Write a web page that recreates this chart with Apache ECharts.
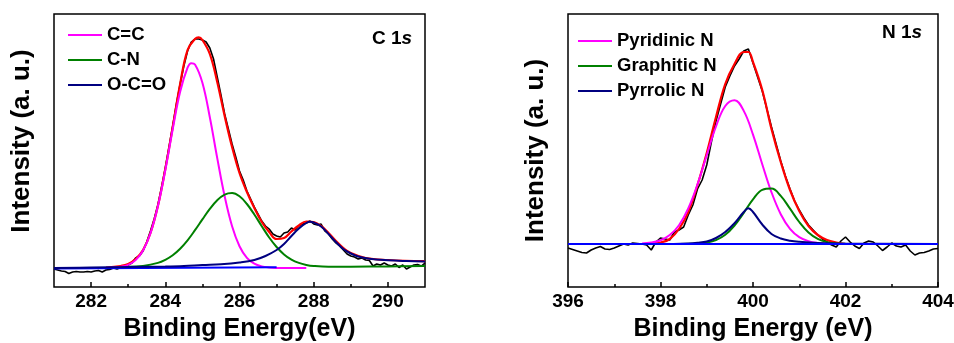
<!DOCTYPE html>
<html><head><meta charset="utf-8">
<script src="https://cdn.jsdelivr.net/npm/echarts@6/dist/echarts.min.js"></script>
<style>html,body{margin:0;padding:0;background:#fff}#c{width:954px;height:343px}</style>
</head><body><div id="c"></div>
<script>
// ---------- C 1s (left panel) ----------
const c1sTicks = [282, 284, 286, 288, 290];
const c1sMinorTicks = [283, 285, 287, 289];
const c1sRawE = [281.0,281.1,281.2,281.3,281.4,281.5,281.6,281.7,281.8,281.9,
 282.0,282.1,282.2,282.3,282.4,282.5,282.6,282.7,282.8,282.9,
 283.0,283.1,283.2,283.3,283.4,283.5,283.6,283.7,283.8,283.9,
 284.0,284.1,284.2,284.3,284.4,284.5,284.6,284.7,284.8,284.9,
 285.0,285.1,285.2,285.3,285.4,285.5,285.6,285.7,285.8,285.9,
 286.0,286.1,286.2,286.3,286.4,286.5,286.6,286.7,286.8,286.9,
 287.0,287.1,287.2,287.3,287.4,287.5,287.6,287.7,287.8,287.9,
 288.0,288.1,288.2,288.3,288.4,288.5,288.6,288.7,288.8,288.9,
 289.0,289.1,289.2,289.3,289.4,289.5,289.6,289.7,289.8,289.9,
 290.0,290.1,290.2,290.3,290.4,290.5,290.6,290.7,290.8,290.9,291.0];
const c1sRaw = [18,17,16,15.5,13.5,15,15.5,15,15,15.5,
 15,16,16.5,15,17,17.5,19,18,19.5,20,
 22,24,29,31,36,45,56,68,82,100,
 119,140,161,183,203,221,236,245,248,248,
 247,245,239,228,210,192,173,158,143,130,
 116,107,96,88,80,73,66,61,58,53,
 51,50,54,55,59,57,61,63,64,66,
 63,62,63,56,53,48,44,41,37,33,
 31,30,28,29,27,26.5,21,23,22,24,
 22,21,23,19.5,22,18,20,22,22.5,21,24];
const c1sFitE = [282.4,282.8,283.0,283.2,283.4,283.6,283.8,284.0,284.2,284.4,284.6,284.8,284.9,285.0,285.2,285.4,285.6,285.8,286.0,286.2,286.4,286.6,286.8,287.0,287.2,287.4,287.6,287.8,288.0,288.2,288.4,288.6,288.8,289.0,289.4,290.0,291.0];
const c1sFit = [19.5,21,23,28,37,54,81,118,160,203,237,248,249.7,247,233,205,171,140,114,95,79,65,55,48,49,55.5,61.5,65.5,65,61,54,46,39,34,29,27,25.8];
const ccE = [282.4,282.6,282.8,283.0,283.2,283.4,283.6,283.8,284.0,284.2,284.4,284.6,284.7,284.8,285.0,285.2,285.4,285.6,285.8,286.0,286.2,286.4,286.6,286.8,287.0,287.4,287.8];
const ccV = [19.1,19.4,20.2,22.2,26.9,36.6,53.8,80.7,116.8,157.8,195.3,219.3,223.8,222.6,204.3,169.8,128.9,90.7,60.8,40.8,29.2,23.3,20.6,19.5,19.1,19,19];
const cnE = [283.0,283.4,283.8,284.0,284.2,284.4,284.6,284.8,285.0,285.2,285.4,285.6,285.8,286.0,286.2,286.4,286.6,286.8,287.0,287.2,287.4,287.6,287.8,288.0,288.4,289.0,290.0,291.0];
const cnV = [20.2,21.1,24.1,27.2,31.8,38.3,46.7,56.8,67.6,78.1,86.8,92.4,93.9,90.7,83.0,72.5,60.8,49.5,40.0,32.6,27.4,24.1,22.1,21.0,20.2,20.3,20.6,21];
const occE = [281.0,282.0,283.0,284.0,284.5,285.0,285.5,286.0,286.4,286.7,287.0,287.2,287.4,287.6,287.8,287.9,288.0,288.2,288.4,288.6,288.8,289.0,289.2,289.5,290.0,290.5,291.0];
const occV = [19,19.5,20,20.5,21,22,22.8,24.5,27,31,37,43,51,58.5,64,65.3,64.5,60.5,53,45,38,33.5,30.5,28.3,26.8,26,25.5];
const c1sBgE = [281.0, 287.0];
const c1sBgV = [18.6, 19.7];

// ---------- N 1s (right panel) ----------
const n1sTicks = [396, 398, 400, 402, 404];
const n1sMinorTicks = [397, 399, 401, 403];
const n1sRawE = [396.0,396.1,396.2,396.3,396.4,396.5,396.6,396.7,396.8,396.9,
 397.0,397.1,397.2,397.3,397.4,397.5,397.6,397.7,397.8,397.9,
 398.0,398.1,398.2,398.3,398.4,398.5,398.6,398.7,398.8,398.9,
 399.0,399.1,399.2,399.3,399.4,399.5,399.6,399.7,399.8,399.9,
 400.0,400.1,400.2,400.3,400.4,400.5,400.6,400.7,400.8,400.9,
 401.0,401.1,401.2,401.3,401.4,401.5,401.6,401.7,401.8,401.9,
 402.0,402.1,402.2,402.3,402.4,402.5,402.6,402.7,402.8,402.9,
 403.0,403.1,403.2,403.3,403.4,403.5,403.6,403.7,403.8,403.9,404.0];
const n1sRaw = [39,37.5,36,34.5,34,37,39,40.5,38,37.5,
 39,41,43,42,44,43.5,43,42,37,45,
 49,48,47,55,57,60,72,82,98,107,
 122,145,166,183,200,211,221,228,236,238,
 224,210,196,178,160,143,126,111,98,86,
 77,69,62,57,52,48,45,42,40,46,
 50,45,41,38.5,44,46,45,41,36.5,40,
 44,41,40,42,36,32,34,34.5,36,38,38.5];
const n1sFitE = [397.6,397.8,398.0,398.2,398.4,398.6,398.8,399.0,399.2,399.4,399.6,399.8,399.9,400.0,400.2,400.4,400.6,400.8,401.0,401.2,401.4,401.6,401.8,402.0];
const n1sFit = [43,43.5,44.5,48,58,75,102,134,170,203,223,235,235,225,197,158,125,97,76,61,52,47,44.5,43];
const pyridE = [397.6,397.8,398.0,398.2,398.4,398.6,398.8,399.0,399.2,399.4,399.6,399.8,400.0,400.2,400.4,400.6,400.8,401.0,401.2,401.4,401.6,402.0];
const pyridV = [43.4,44.4,46.7,51.9,61.8,78.6,102.6,131.8,160.5,181,186.8,176.1,152.4,122.8,94.7,72.8,58.2,49.9,45.8,44,43.3,43];
const graphE = [398.4,398.8,399.0,399.2,399.4,399.6,399.8,400.0,400.2,400.4,400.6,400.8,401.0,401.2,401.4,401.6,401.8,402.0];
const graphV = [43,43.4,44.4,46.9,52.2,61.5,74.2,87.6,97.1,98.4,91.1,78.3,65,54.6,48.2,44.9,43.6,43.2];
const pyrrE = [396.0,398.0,398.6,398.8,399.0,399.2,399.4,399.6,399.8,399.9,400.0,400.2,400.4,400.6,400.8,401.0,401.4,402.0,404.0];
const pyrrV = [43,43,43.5,44.2,45.5,49,55,63.7,75,78.7,75,62.5,53,48.5,46.3,45.2,44,43.3,43];
const n1sBgE = [396.0, 404.0];
const n1sBgV = [43, 43];

const zip = (xs, ys) => xs.map((x, i) => [x, ys[i]]);
const FONT = '"Liberation Sans", Arial, sans-serif';

function line(name, xs, ys, color, width, gi, smooth, z) {
  return { name, type: 'line', xAxisIndex: gi * 2, yAxisIndex: gi, data: zip(xs, ys),
    symbol: 'none', showSymbol: false, smooth: smooth, silent: true, z: z,
    lineStyle: { color, width }, itemStyle: { color } };
}

function xAxes(gi, min, max, ticks, minor, title) {
  return [
    { type: 'value', gridIndex: gi, min, max, position: 'bottom',
      name: title, nameLocation: 'middle', nameGap: 30,
      nameTextStyle: { fontFamily: FONT, fontWeight: 'bold', fontSize: 25, color: '#000' },
      axisLine: { show: false }, splitLine: { show: false },
      axisTick: { show: true, inside: true, length: 5, customValues: ticks, lineStyle: { color: '#000', width: 1.5 } },
      axisLabel: { show: true, customValues: ticks, margin: 5, fontFamily: FONT, fontWeight: 'bold', fontSize: 19, color: '#000' } },
    { type: 'value', gridIndex: gi, min, max, position: 'bottom',
      axisLine: { show: false }, splitLine: { show: false }, axisLabel: { show: false },
      axisTick: { show: true, inside: true, length: 3, customValues: minor, lineStyle: { color: '#000', width: 1.5 } } }
  ];
}

function yAxis(gi, pad) {
  return { type: 'value', gridIndex: gi, min: 0, max: 273,
    name: 'Intensity (a. u.)', nameLocation: 'middle', nameGap: 19,
    nameTextStyle: { fontFamily: FONT, fontWeight: 'bold', fontSize: 26, color: '#000', padding: pad },
    axisLine: { show: false }, axisTick: { show: false }, axisLabel: { show: false }, splitLine: { show: false } };
}

const legendText = { fontFamily: FONT, fontWeight: 'bold', fontSize: 18.5, color: '#000', lineHeight: 20 };
const richLabel = {
  a: { fontFamily: FONT, fontWeight: 'bold', fontSize: 19, color: '#000' },
  b: { fontFamily: FONT, fontWeight: 'bold', fontStyle: 'italic', fontSize: 19, color: '#000' }
};

const option = {
  animation: false,
  backgroundColor: '#fff',
  title: [
    { text: '{a|C 1}{b|s}', left: 372, top: 29, padding: 0, textStyle: { rich: richLabel } },
    { text: '{a|N 1}{b|s}', left: 882, top: 23, padding: 0, textStyle: { rich: richLabel } }
  ],
  grid: [
    { left: 54, top: 14, width: 371, height: 273, outerBoundsMode: 'none', containLabel: false,
      show: true, borderColor: '#000', borderWidth: 1.5, backgroundColor: 'transparent' },
    { left: 568, top: 14, width: 370, height: 273, outerBoundsMode: 'none', containLabel: false,
      show: true, borderColor: '#000', borderWidth: 1.5, backgroundColor: 'transparent' }
  ],
  xAxis: [
    ...xAxes(0, 281, 291, c1sTicks, c1sMinorTicks, 'Binding Energy(eV)'),
    ...xAxes(1, 396, 404, n1sTicks, n1sMinorTicks, 'Binding Energy (eV)')
  ],
  yAxis: [ yAxis(0, [0, 0, 0, 19]), yAxis(1, [0, 0, 0, 0]) ],
  legend: [
    { orient: 'vertical', left: 68, top: 25, padding: 0, itemGap: 5, itemWidth: 34, itemHeight: 2, icon: 'rect',
      data: ['C=C', 'C-N', 'O-C=O'], textStyle: legendText },
    { orient: 'vertical', left: 578, top: 31, padding: 0, itemGap: 5, itemWidth: 34, itemHeight: 2, icon: 'rect',
      data: ['Pyridinic N', 'Graphitic N', 'Pyrrolic N'], textStyle: legendText }
  ],
  series: [
    line('C 1s raw', c1sRawE, c1sRaw, '#000000', 1.6, 0, false, 2),
    line('C 1s fit', c1sFitE, c1sFit, '#ff0000', 2.2, 0, 0.4, 3),
    line('C=C', ccE, ccV, '#ff00ff', 2, 0, 0.4, 4),
    line('C-N', cnE, cnV, '#008000', 2, 0, 0.4, 4),
    line('C 1s background', c1sBgE, c1sBgV, '#0000ff', 2, 0, false, 4),
    line('O-C=O', occE, occV, '#000080', 2, 0, 0.4, 5),
    line('N 1s raw', n1sRawE, n1sRaw, '#000000', 1.6, 1, false, 2),
    line('N 1s fit', n1sFitE, n1sFit, '#ff0000', 2.2, 1, 0.4, 3),
    line('Pyridinic N', pyridE, pyridV, '#ff00ff', 2, 1, 0.4, 4),
    line('Graphitic N', graphE, graphV, '#008000', 2, 1, 0.4, 4),
    line('Pyrrolic N', pyrrE, pyrrV, '#000080', 2, 1, 0.4, 5),
    line('N 1s background', n1sBgE, n1sBgV, '#0000ff', 2, 1, false, 6)
  ]
};
echarts.init(document.getElementById('c')).setOption(option);
</script></body></html>
